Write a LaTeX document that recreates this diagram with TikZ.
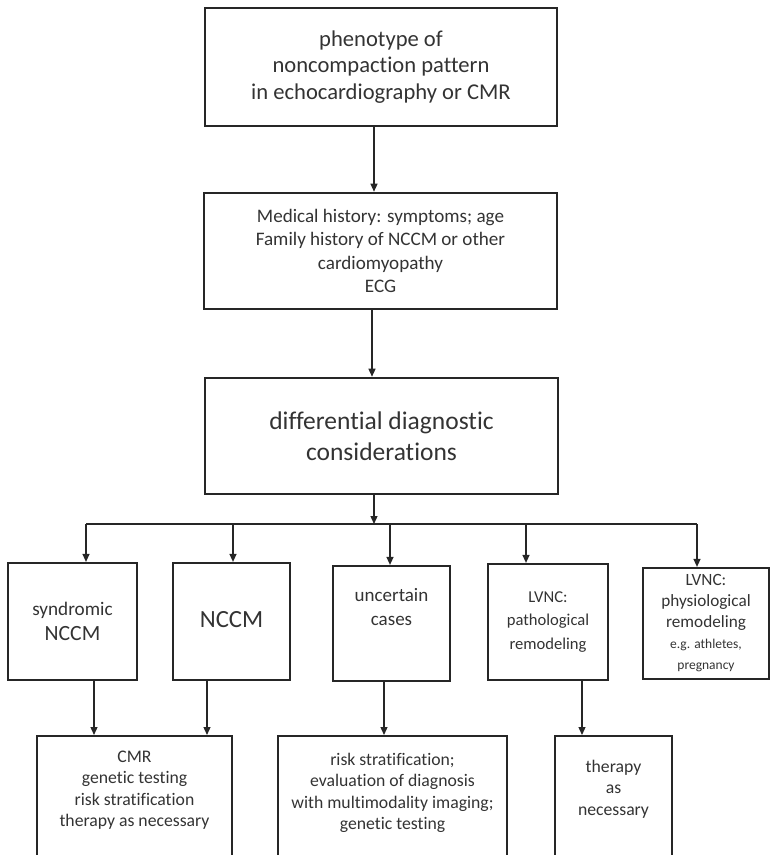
\documentclass[tikz,border=0pt]{standalone}
\usepackage{fontspec}
\setmainfont{Carlito}[Ligatures=NoCommon]
\usetikzlibrary{positioning}
\usetikzlibrary{arrows.meta}
\tikzset{
    bigbox/.style = {rectangle, line width=2.6pt, draw=black!85, align=center, text=black!80, inner sep=0pt},
    rowbox/.style = {rectangle, line width=2.2pt, draw=black!85, align=center, text=black!80, inner sep=0pt},
    outtext/.style = {align=center, text=black!80, inner sep=0pt, font=\fontsize{17.7}{21.3}\selectfont},
    edgen/.style = {-{Triangle[length=8pt,width=7pt]}, line width=1.3pt, draw=black!85},
    busline/.style = {line width=1.3pt, draw=black!85} % horizontal split
}
\begin{document}
\begin{tikzpicture}[x=1pt,y=-1pt]
\path[use as bounding box] (0,0) rectangle (771,855);
\clip (0,0) rectangle (771,855);
%
\node[bigbox, minimum width=352pt, minimum height=118pt, font=\fontsize{22.6}{26.5}\selectfont] at (381,67) (pheno) {phenotype of\\noncompaction pattern\\in echocardiography or CMR};
\node[bigbox, minimum width=353pt, minimum height=116pt, font=\fontsize{19.1}{23.3}\selectfont] at (380.5,251) (hist) {Medical history: symptoms; age\\Family history of NCCM or other\\cardiomyopathy\\ECG};
\node[bigbox, minimum width=353pt, minimum height=116pt, font=\fontsize{25.5}{31}\selectfont] at (381.5,436) (diff) {differential diagnostic\\considerations};
%
\node[rowbox, minimum width=129pt, minimum height=117pt, font=\fontsize{19.2}{25}\selectfont] at (72.5,621.5) (syn) {syndromic\\{\fontsize{21.7}{25}\selectfont NCCM}};
\node[rowbox, minimum width=117pt, minimum height=117pt, font=\fontsize{24.7}{29}\selectfont] at (231.5,621.5) (nccm) {\raisebox{5pt}{NCCM}};
\node[rowbox, minimum width=117pt, minimum height=115pt, font=\fontsize{19}{24}\selectfont] at (391.5,623.5) (unc) {uncertain\\cases\\[9pt]};
\node[rowbox, minimum width=120pt, minimum height=116pt, font=\fontsize{16.6}{23.5}\selectfont] at (548,622) (patho) {LVNC:\\pathological\\remodeling};
\node[rowbox, minimum width=126pt, minimum height=111pt, font=\fontsize{17.2}{21}\selectfont] at (706,623.5) (phys) {LVNC:\\physiological\\remodeling\\{\fontsize{13.5}{16}\selectfont e.g. athletes,}\\{\fontsize{13.5}{16}\selectfont pregnancy}};
%
\node[rowbox, anchor=north, minimum width=195pt, minimum height=140pt,
      label={[outtext,anchor=north,yshift=-16pt]north:{CMR\\genetic testing\\risk stratification\\therapy as necessary}}] at (134.5,735) (resA) {};
\node[rowbox, anchor=north, minimum width=229pt, minimum height=140pt,
      label={[outtext,anchor=north,yshift=-18pt]north:{risk stratification;\\evaluation of diagnosis\\with multimodality imaging;\\genetic testing}}] at (392.5,735) (resB) {};
\node[rowbox, anchor=north, minimum width=117pt, minimum height=140pt,
      label={[outtext,anchor=north,yshift=-25pt]north:{therapy\\as\\necessary}}] at (613.5,735) (resC) {};
%
\coordinate (bus) at (374,524);
\draw[edgen] ([xshift=-7pt]pheno.south) -- ([xshift=-7pt]pheno.south |- hist.north);
\draw[edgen] ([xshift=-8.5pt]hist.south) -- ([xshift=-8.5pt]hist.south |- diff.north);
\draw[edgen] ([xshift=-7.5pt]diff.south) -- (bus);
\draw[busline] ([xshift=13.5pt]syn.north |- bus) -- ([xshift=-9pt]phys.north |- bus);
%
\draw[edgen] ([xshift=13.5pt]syn.north |- bus) -- ([xshift=13.5pt]syn.north);
\draw[edgen] ([xshift=1.5pt]nccm.north |- bus) -- ([xshift=1.5pt]nccm.north);
\draw[edgen] ([xshift=-1.5pt]unc.north |- bus) -- ([xshift=-1.5pt]unc.north);
\draw[edgen] ([xshift=-22pt]patho.north |- bus) -- ([xshift=-22pt]patho.north);
\draw[edgen] ([xshift=-9pt]phys.north |- bus) -- ([xshift=-9pt]phys.north);
%
\draw[edgen] ([xshift=21.5pt]syn.south) -- ([xshift=21.5pt]syn.south |- resA.north);
\draw[edgen] ([xshift=-24.5pt]nccm.south) -- ([xshift=-24.5pt]nccm.south |- resA.north);
\draw[edgen] ([xshift=-7.5pt]unc.south) -- ([xshift=-7.5pt]unc.south |- resB.north);
\draw[edgen] ([xshift=34pt]patho.south) -- ([xshift=34pt]patho.south |- resC.north);
\end{tikzpicture}
\end{document}
